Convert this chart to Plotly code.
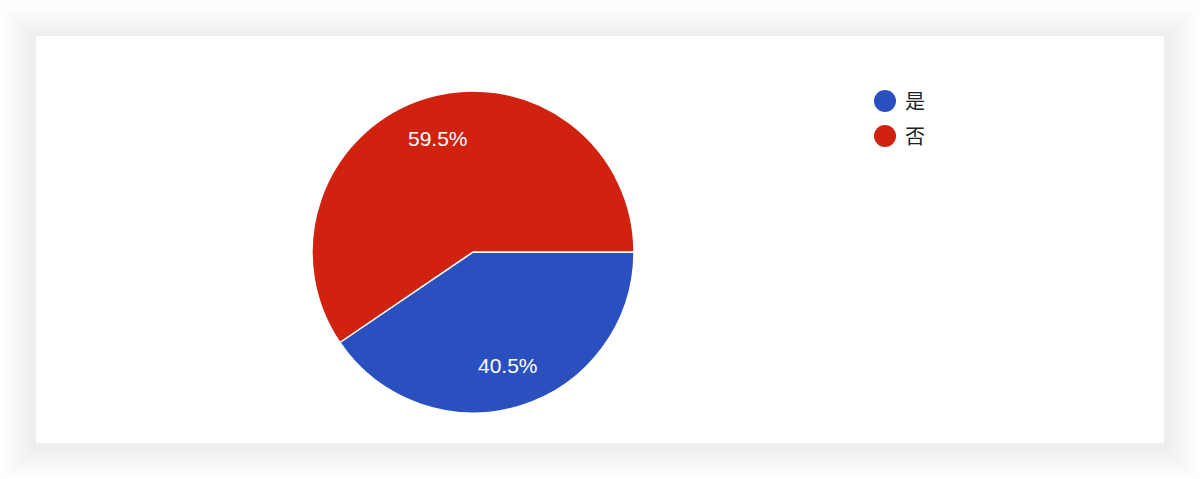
import math
import plotly.graph_objects as go

# Data
labels = ['是', '否']
values = [40.5, 59.5]
colors = ['#2a50c0', '#d12210']

W, H = 1200, 479
CARD = (36, 36, 1164, 443)    # card bounds, px (left, top, right, bottom)
CX, CY, R = 473, 252, 161      # pie centre and radius, px
LABEL_FRAC = 0.74              # where the percent labels sit along the radius
LEG_X, LEG_Y, LEG_STEP, LEG_R = 885, 101, 35, 11


def px_x(x):
    return x / W


def px_y(y):
    return 1 - y / H


fig = go.Figure()

fig.add_trace(go.Pie(
    labels=labels,
    values=values,
    sort=False,
    direction='clockwise',
    rotation=90,
    marker=dict(colors=colors, line=dict(color='white', width=1.5)),
    textinfo='none',
    domain=dict(x=[px_x(CX - R), px_x(CX + R)],
                y=[px_y(CY + R), px_y(CY - R)]),
    showlegend=False,
    hoverinfo='label+percent',
))

# percent labels at the middle angle of each slice (clockwise from 3 o'clock)
total = sum(values)
start = 0.0
annotations = []
for v in values:
    mid = math.radians((start + v / 2) / total * 360)
    start += v
    annotations.append(dict(
        xref='paper', yref='paper', showarrow=False,
        xanchor='center', yanchor='middle',
        x=px_x(CX + LABEL_FRAC * R * math.cos(mid)),
        y=px_y(CY + LABEL_FRAC * R * math.sin(mid)),
        text=f'{v / total * 100:.1f}%',
        font=dict(color='white', size=21, family='Liberation Sans, Arial'),
    ))

# soft shadow behind the card
shapes = []
for i in range(16, 0, -1):
    d = i * 2
    shapes.append(dict(
        type='rect', xref='paper', yref='paper', layer='below',
        x0=px_x(CARD[0] - d), x1=px_x(CARD[2] + d),
        y0=px_y(CARD[3] + d + 3), y1=px_y(CARD[1] - d + 3),
        fillcolor='rgba(0,0,0,0.005)', line=dict(width=0),
    ))
shapes.append(dict(
    type='rect', xref='paper', yref='paper', layer='below',
    x0=px_x(CARD[0]), x1=px_x(CARD[2]),
    y0=px_y(CARD[3]), y1=px_y(CARD[1]),
    fillcolor='white', line=dict(width=0),
))

# legend with round markers (plotly caps legend symbols at 16px)
for i, (lab, col) in enumerate(zip(labels, colors)):
    ly = LEG_Y + i * LEG_STEP
    shapes.append(dict(
        type='circle', xref='paper', yref='paper',
        x0=px_x(LEG_X - LEG_R), x1=px_x(LEG_X + LEG_R),
        y0=px_y(ly + LEG_R), y1=px_y(ly - LEG_R),
        fillcolor=col, line=dict(width=0),
    ))
    annotations.append(dict(
        xref='paper', yref='paper', showarrow=False,
        xanchor='left', yanchor='middle',
        x=px_x(LEG_X + 18), y=px_y(ly),
        text=lab,
        font=dict(size=20, color='#222222', family='Noto Sans CJK SC'),
    ))

fig.update_layout(
    width=W, height=H,
    margin=dict(l=0, r=0, t=0, b=0),
    paper_bgcolor='#fefefe',
    shapes=shapes,
    annotations=annotations,
    showlegend=False,
)

fig.write_html('out.html', config={'displayModeBar': False},
               post_script="document.body.style.margin='0';")
